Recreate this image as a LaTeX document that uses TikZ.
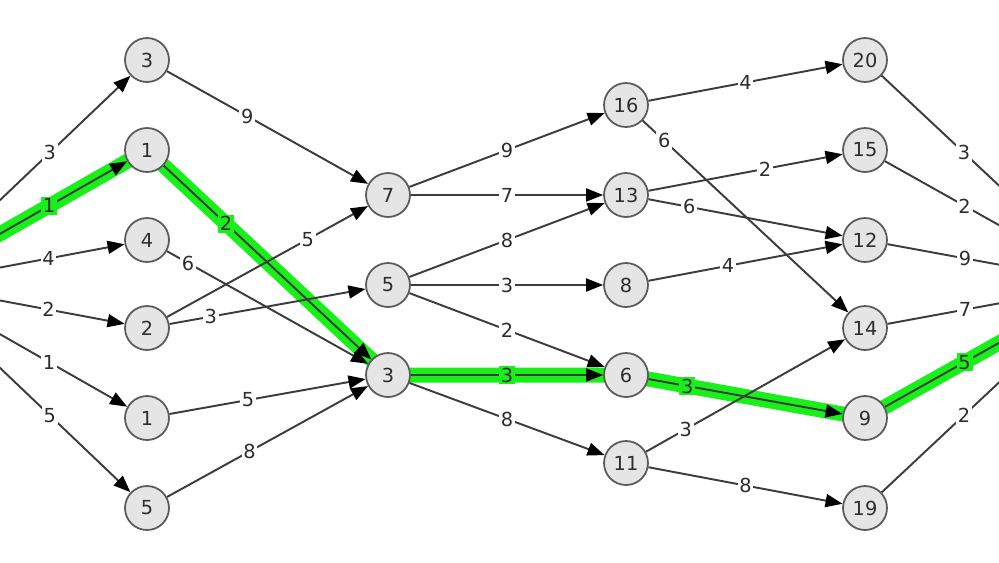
\documentclass[tikz,border=0pt]{standalone}
\usepackage{fontspec}
\setmainfont{DejaVu Sans}
\usetikzlibrary{arrows.meta, backgrounds}
\definecolor{nodefill}{RGB}{229,229,229}
\definecolor{nodeline}{RGB}{90,90,90}
\definecolor{edgeline}{RGB}{60,60,60}
\definecolor{pathgreen}{RGB}{25,240,25}
\definecolor{labeltext}{RGB}{45,45,45}
\tikzset{
	vertex/.style={circle, draw=nodeline, fill=nodefill, line width=1pt, minimum size=0.88cm, inner sep=0pt, font=\fontsize{11}{13}\selectfont, text=labeltext},
	arc/.style={-{Triangle[length=3.4mm, width=2.6mm, color=black]}, draw=edgeline, line width=1.1pt},
	hlpath/.style={draw=pathgreen, line width=0.3cm},
	wlab/.style={fill=white, inner sep=1pt, font=\fontsize{11}{13}\selectfont, text=labeltext},
	glab/.style={wlab, fill=pathgreen},
}

\begin{document}
\begin{tikzpicture}[x=0.02cm, y=-0.02cm]
	\useasboundingbox (0,0) rectangle (999,562);
	\clip (0,0) rectangle (999,562);
	% source and sink lie outside the frame
	\node[vertex] (src) at (-88,284) {};
	\node[vertex] (snk) at (1104,284) {};
	% first column
	\node[vertex] (a3) at (147,60) {3};
	\node[vertex] (a1) at (147,150) {1};
	\node[vertex] (a4) at (147,240) {4};
	\node[vertex] (a2) at (147,328) {2};
	\node[vertex] (a1b) at (147,418) {1};
	\node[vertex] (a5) at (147,508) {5};
	% second column
	\node[vertex] (b7) at (388,195) {7};
	\node[vertex] (b5) at (388,285) {5};
	\node[vertex] (b3) at (388,375) {3};
	% third column
	\node[vertex] (c16) at (626,105) {16};
	\node[vertex] (c13) at (626,195) {13};
	\node[vertex] (c8) at (626,285) {8};
	\node[vertex] (c6) at (626,375) {6};
	\node[vertex] (c11) at (626,463) {11};
	% fourth column
	\node[vertex] (d20) at (865,60) {20};
	\node[vertex] (d15) at (865,150) {15};
	\node[vertex] (d12) at (865,240) {12};
	\node[vertex] (d14) at (865,328) {14};
	\node[vertex] (d9) at (865,418) {9};
	\node[vertex] (d19) at (865,508) {19};

	% shortest path glow
	\begin{scope}[on background layer]
		\draw[hlpath] (src.center) -- (a1.center) -- (b3.center) -- (c6.center) -- (d9.center) -- (snk.center);
	\end{scope}

	\draw[arc] (src) -- node[wlab, pos=0.6] {3} (a3);
	\draw[arc] (src) -- node[glab, pos=0.6] {1} (a1);
	\draw[arc] (src) -- node[wlab, pos=0.6] {4} (a4);
	\draw[arc] (src) -- node[wlab, pos=0.6] {2} (a2);
	\draw[arc] (src) -- node[wlab, pos=0.6] {1} (a1b);
	\draw[arc] (src) -- node[wlab, pos=0.6] {5} (a5);

	\draw[arc] (a3) -- node[wlab, pos=0.4] {9} (b7);
	\draw[arc] (a1) -- node[glab, pos=0.3] {2} (b3);
	\draw[arc] (a4) -- node[wlab, pos=0.105] {6} (b3);
	\draw[arc] (a2) -- node[wlab, pos=0.7] {5} (b7);
	\draw[arc] (a2) -- node[wlab, pos=0.21] {3} (b5);
	\draw[arc] (a1b) -- node[wlab, pos=0.4] {5} (b3);
	\draw[arc] (a5) -- node[wlab, pos=0.41] {8} (b3);

	\draw[arc] (b7) -- node[wlab] {9} (c16);
	\draw[arc] (b7) -- node[wlab] {7} (c13);
	\draw[arc] (b5) -- node[wlab] {8} (c13);
	\draw[arc] (b5) -- node[wlab] {3} (c8);
	\draw[arc] (b5) -- node[wlab] {2} (c6);
	\draw[arc] (b3) -- node[glab] {3} (c6);
	\draw[arc] (b3) -- node[wlab] {8} (c11);

	\draw[arc] (c16) -- node[wlab] {4} (d20);
	\draw[arc] (c16) -- node[wlab, pos=0.105] {6} (d14);
	\draw[arc] (c13) -- node[wlab, pos=0.6] {2} (d15);
	\draw[arc] (c13) -- node[wlab, pos=0.21] {6} (d12);
	\draw[arc] (c8) -- node[wlab, pos=0.41] {4} (d12);
	\draw[arc] (c6) -- node[glab, pos=0.2] {3} (d9);
	\draw[arc] (c11) -- node[wlab, pos=0.2] {3} (d14);
	\draw[arc] (c11) -- node[wlab] {8} (d19);

	\draw[arc] (d20) -- node[wlab, pos=0.4] {3} (snk);
	\draw[arc] (d15) -- node[wlab, pos=0.4] {2} (snk);
	\draw[arc] (d12) -- node[wlab, pos=0.4] {9} (snk);
	\draw[arc] (d14) -- node[wlab, pos=0.4] {7} (snk);
	\draw[arc] (d9) -- node[glab, pos=0.4] {5} (snk);
	\draw[arc] (d19) -- node[wlab, pos=0.4] {2} (snk);
\end{tikzpicture}
\end{document}
